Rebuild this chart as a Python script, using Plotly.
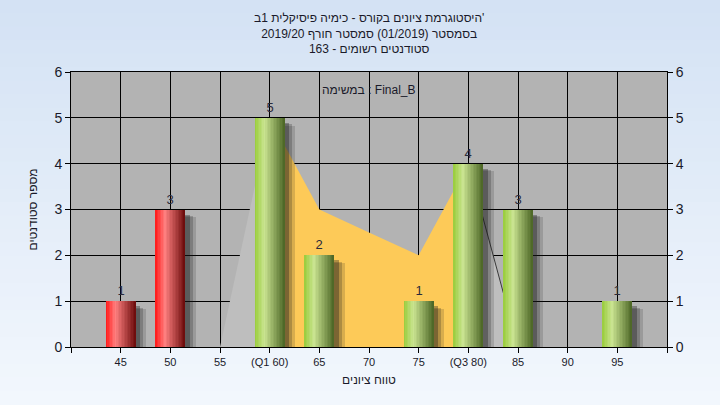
import plotly.graph_objects as go

# ---------------- data ----------------
categories = [45, 50, 55, 60, 65, 70, 75, 80, 85, 90, 95]
tick_labels = ["45", "50", "55", "(Q1 60)", "65", "70", "75", "(Q3 80)", "85", "90", "95"]
counts = [1, 3, 0, 5, 2, 0, 1, 4, 3, 0, 1]
fail_below = 55

area_x = [55, 60, 65, 70, 75, 80, 85]
area_y = [0, 5, 3, 2.5, 2, 4, 0]
q1, q3 = 60, 80

title_lines = [
    "היסטוגרמת ציונים בקורס - כימיה פיסיקלית 1ב'",
    "בסמסטר (01/2019) סמסטר חורף 2019/20",
    "סטודנטים רשומים - 163",
]
task_label = "במשימה : Final_B"
x_title = "טווח ציונים"
y_title = "מספר סטודנטים"

# ---------------- styling ----------------
FONT = "Liberation Sans, Arial, sans-serif"
W, H = 720, 405
ML, MR, MT, MB = 71, 53, 72, 58
BAR_W = 3.0
N_SLICES = 20

red_grad = [(0.0, (255, 22, 22)), (0.32, (255, 128, 128)), (1.0, (105, 10, 10))]
green_grad = [(0.0, (152, 204, 58)), (0.32, (202, 228, 145)), (1.0, (74, 100, 36))]


def grad_color(stops, t):
    for (t0, c0), (t1, c1) in zip(stops[:-1], stops[1:]):
        if t0 <= t <= t1:
            f = (t - t0) / (t1 - t0)
            c = [round(a + (b - a) * f) for a, b in zip(c0, c1)]
            return "rgb(%d,%d,%d)" % tuple(c)
    return "rgb(%d,%d,%d)" % stops[-1][1]


fig = go.Figure()

# --- area (distribution) on the main axes ---
segments = [(area_x[0], q1, "#bebebe"), (q1, q3, "#fdca58"), (q3, area_x[-1], "#bebebe")]
for lo, hi, col in segments:
    xs = [x for x in area_x if lo <= x <= hi]
    ys = [y for x, y in zip(area_x, area_y) if lo <= x <= hi]
    fig.add_trace(go.Scatter(x=xs + [hi, lo], y=ys + [0, 0], fill="toself", fillcolor=col,
                             mode="lines", line=dict(width=0), hoverinfo="skip", showlegend=False))
xs = [x for x in area_x if x >= q3]
ys = [y for x, y in zip(area_x, area_y) if x >= q3]
fig.add_trace(go.Scatter(x=xs, y=ys, mode="lines", line=dict(color="#3a3a3a", width=1),
                         hoverinfo="skip", showlegend=False))

# --- bars on the overlaying axis (drawn above the area) ---
bx = [c for c, v in zip(categories, counts) if v > 0]
by = [v for v in counts if v > 0]
is_red = [c < fail_below for c in bx]

# soft shadows
for dx, dy, alpha, extra in [(0.75, 0.17, 0.16, 0.3), (0.6, 0.14, 0.22, 0.15), (0.45, 0.11, 0.34, 0.0)]:
    fig.add_trace(go.Bar(x=bx, y=[v - dy for v in by], width=BAR_W + extra,
                         offset=-BAR_W / 2 + dx, base=0, yaxis="y2",
                         marker=dict(color="rgba(25,25,25,%.2f)" % alpha, line=dict(width=0)),
                         hoverinfo="skip", showlegend=False))

sw = BAR_W / N_SLICES
for i in range(N_SLICES):
    t = (i + 0.5) / N_SLICES
    cols = [grad_color(red_grad if r else green_grad, t) for r in is_red]
    fig.add_trace(go.Bar(x=bx, y=by, width=sw * (1.6 if i < N_SLICES - 1 else 1.0),
                         offset=-BAR_W / 2 + i * sw,
                         marker=dict(color=cols, line=dict(width=0)), yaxis="y2",
                         hoverinfo="skip", showlegend=False))

# value labels above bars
fig.add_trace(go.Bar(x=bx, y=by, width=BAR_W, offset=-BAR_W / 2, yaxis="y2",
                     marker=dict(color="rgba(0,0,0,0)", line=dict(width=0)),
                     text=[str(v) for v in by], textposition="outside", cliponaxis=False,
                     textfont=dict(family=FONT, size=13, color="#2a2a3a"),
                     hoverinfo="skip", showlegend=False))

# ---------------- background gradient ----------------
pw, ph = W - ML - MR, H - MT - MB
shapes = []
NB = 30
top_c, bot_c = (212, 226, 244), (242, 247, 253)
y_lo, y_hi = -MB / ph, 1 + MT / ph
for k in range(NB):
    f = k / (NB - 1)
    c = tuple(round(a + (b - a) * f) for a, b in zip(top_c, bot_c))
    y1 = y_hi - (y_hi - y_lo) * k / NB
    y0 = y_hi - (y_hi - y_lo) * (k + 1) / NB
    shapes.append(dict(type="rect", xref="paper", yref="paper", x0=-ML / pw, x1=1 + MR / pw,
                       y0=y0 - 0.002, y1=y1 + 0.002, fillcolor="rgb(%d,%d,%d)" % c,
                       line=dict(width=0), layer="below"))
shapes.append(dict(type="rect", xref="paper", yref="paper", x0=0, x1=1, y0=0, y1=1,
                   fillcolor="#b3b3b3", line=dict(width=0), layer="below"))

axis_font = dict(family=FONT, size=11, color="#1a1a2a")
ytick_font = dict(family=FONT, size=14, color="#1a1a2a")

fig.update_layout(
    width=W, height=H,
    margin=dict(l=ML, r=MR, t=MT, b=MB, pad=0),
    paper_bgcolor="#e4edf8",
    plot_bgcolor="rgba(0,0,0,0)",
    shapes=shapes,
    barmode="overlay",
    bargap=0,
    showlegend=False,
    font=dict(family=FONT, size=12, color="#1a1a2a"),
    xaxis=dict(range=[40, 100], tickmode="array",
               tickvals=[40] + categories + [100], ticktext=[""] + tick_labels + [""],
               showgrid=True, gridcolor="#000000", gridwidth=1,
               ticks="outside", ticklen=5, tickcolor="#000000",
               showline=True, linecolor="#000000", linewidth=1, mirror=True,
               zeroline=False, tickfont=axis_font,
               title=dict(text=x_title, font=dict(family=FONT, size=12, color="#1a1a2a"), standoff=8)),
    yaxis=dict(range=[0, 6], dtick=1, showgrid=True, gridcolor="#000000", gridwidth=1,
               ticks="outside", ticklen=5, tickcolor="#000000",
               showline=True, linecolor="#000000", linewidth=1, mirror=True,
               zeroline=False, tickfont=ytick_font,
               title=dict(text=y_title, font=dict(family=FONT, size=12, color="#1a1a2a"), standoff=14)),
    yaxis2=dict(range=[0, 6], dtick=1, overlaying="y", side="right", showgrid=False,
                ticks="outside", ticklen=5, tickcolor="#000000",
                showline=True, linecolor="#000000", linewidth=1, zeroline=False,
                tickfont=ytick_font),
    annotations=[
        dict(text="<br>".join(title_lines), x=0.5, xref="paper", xanchor="center",
             y=1 + (MT - 9) / ph, yref="paper", yanchor="top", showarrow=False,
             font=dict(family=FONT, size=12, color="#1a1a2a")),
        dict(text=task_label, x=0.5, xref="paper", y=5.6, yref="y",
             showarrow=False, xanchor="center",
             font=dict(family=FONT, size=12, color="#1a1a2a")),
    ],
)

fig.write_html("out.html", config={"displayModeBar": False},
               post_script="document.body.style.margin='0';")
